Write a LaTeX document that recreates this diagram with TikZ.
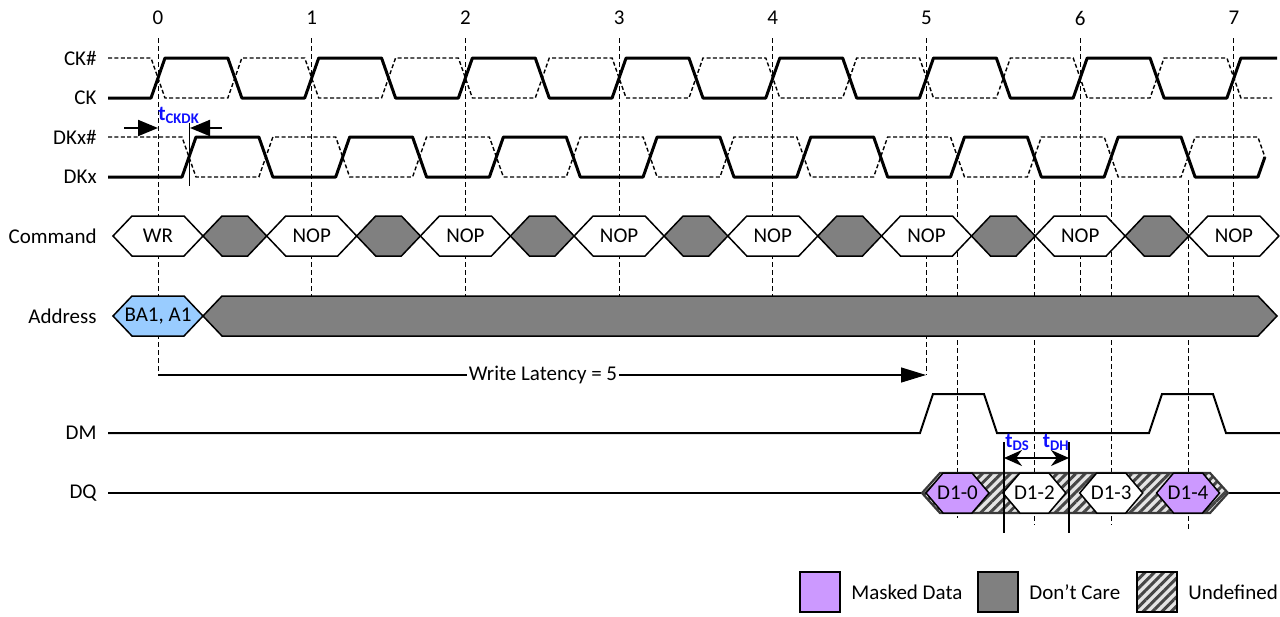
\documentclass[tikz,border=0pt]{standalone}
\usepackage{fontspec}
\setmainfont{Carlito}
\usetikzlibrary{arrows.meta,patterns.meta}
\definecolor{maskpurple}{HTML}{CC99FF}
\definecolor{addrblue}{HTML}{99CCFF}
\definecolor{dcgray}{HTML}{808080}
\definecolor{tblue}{HTML}{1010FF}
\begin{document}
\begin{tikzpicture}[x=0.5pt,y=-0.5pt,
	every node/.style={font=\fontsize{10.5}{12}\selectfont, inner sep=1pt},
	sig/.style={line width=1.5pt, line join=round},
	sigbar/.style={line width=0.7pt, dash pattern=on 2pt off 1.2pt},
	tickline/.style={line width=0.45pt, dash pattern=on 2.5pt off 1.5pt},
	lbl/.style={anchor=east},
	busbox/.style={draw, line width=0.75pt},
	cmdbox/.style={busbox, fill=white},
	dontcare/.style={busbox, fill=dcgray},
	masked/.style={busbox, fill=maskpurple},
	undef/.style={preaction={fill=gray!20}, pattern={Lines[angle=45,distance=3.3pt,line width=1.5pt]}, pattern color=gray!55!black},
	timing/.style={font=\bfseries\fontsize{10.5}{12}\selectfont, text=tblue, inner sep=0pt},
	dimarrow/.style={line width=1pt, -{Triangle[length=10pt,width=8pt]}}]
\useasboundingbox (0,0) rectangle (1280,616);
\def\p{153.7}
% clock numbers and grid
\foreach \i in {0,...,7}
	\node (tk\i) at ({158+\i*\p},18) {\i};
\foreach \i in {1,2,3,4,6,7}
	\draw[tickline] ({158+\i*\p},38) -- ({158+\i*\p},296);
\foreach \i in {0,5}
	\draw[tickline] ({158+\i*\p},38) -- ({158+\i*\p},375);
\foreach \k/\e in {0/518,1/525,2/525,3/532}
	\draw[tickline] ({189+(5+\k/2)*\p},180) -- ({189+(5+\k/2)*\p},\e);
% signal names
\node[lbl] (ckb) at (99,58) {CK\#};
\node[lbl] (ck) at (99,98) {CK};
\node[lbl] (dkb) at (99,137) {DKx\#};
\node[lbl] (dk) at (99,177) {DKx};
\node[lbl] (cmd) at (99,236) {Command};
\node[lbl] (addr) at (99,316) {Address};
\node[lbl] (dm) at (99,433) {DM};
\node[lbl] (dq) at (99,493) {DQ};
% CK / CK#
\draw[sig] (108,98) \foreach \i in {0,...,6} { -- ({158+\i*\p-7},98) -- ({158+\i*\p+7},58) -- ({158+(\i+.5)*\p-7},58) -- ({158+(\i+.5)*\p+7},98) } -- ({158+7*\p-7},98) -- ({158+7*\p+7},58) -- (1277,58);
\draw[sigbar] (108,58) \foreach \i in {0,...,6} { -- ({158+\i*\p-7},58) -- ({158+\i*\p+7},98) -- ({158+(\i+.5)*\p-7},98) -- ({158+(\i+.5)*\p+7},58) } -- ({158+7*\p-7},58) -- ({158+7*\p+7},98) -- (1272,98);
% DKx / DKx#
\draw[sig] (108,177) \foreach \i in {0,...,6} { -- ({189+\i*\p-7},177) -- ({189+\i*\p+7},137) -- ({189+(\i+.5)*\p-7},137) -- ({189+(\i+.5)*\p+7},177) } -- ({189+7*\p-7},177) -- ({189+7*\p},157);
\draw[sigbar] (108,137) \foreach \i in {0,...,6} { -- ({189+\i*\p-7},137) -- ({189+\i*\p+7},177) -- ({189+(\i+.5)*\p-7},177) -- ({189+(\i+.5)*\p+7},137) } -- ({189+7*\p-7},137) -- ({189+7*\p},157);
% tCKDK
\coordinate (ckl) at (124,128);
\coordinate (ck0) at (158,128);
\coordinate (ckr) at (222,128);
\coordinate (dk0) at (190,128);
\draw[line width=0.5pt] (189,123) -- (189,186);
\draw[dimarrow] (ckl) -- (ck0);
\draw[dimarrow] (ckr) -- (dk0);
\node[timing, anchor=base west] (tckdk) at (158,120) {t\textsubscript{CKDK}};
% command bus
\foreach \i/\t in {0/WR,1/NOP,2/NOP,3/NOP,4/NOP,5/NOP,6/NOP,7/NOP} {
	\pgfmathsetmacro\c{158+\i*\p}
	\draw[cmdbox] ({\c-45},236) -- ({\c-26},216) -- ({\c+26},216) -- ({\c+45},236) -- ({\c+26},256) -- ({\c-26},256) -- cycle;
	\node (cmd\i) at (\c,236) {\t};
}
\foreach \i in {0,...,6} {
	\pgfmathsetmacro\c{158+(\i+.5)*\p}
	\draw[dontcare] ({\c-31.85},236) -- ({\c-12.85},216) -- ({\c+12.85},216) -- ({\c+31.85},236) -- ({\c+12.85},256) -- ({\c-12.85},256) -- cycle;
}
% address bus
\draw[busbox, fill=addrblue] (113,316) -- (132,296) -- (184,296) -- (203,316) -- (184,336) -- (132,336) -- cycle;
\node (ba) at (158,316) {BA1, A1};
\draw[dontcare] (203,316) -- (222,296) -- (1258,296) -- (1277,316) -- (1258,336) -- (222,336) -- cycle;
% write latency
\coordinate (wl0) at (158,375);
\coordinate (wl5) at (926,375);
\draw[line width=0.6pt, -{Triangle[length=12.5pt,width=7.5pt]}] (wl0) -- (wl5);
\node[fill=white] (wl) at (543,375) {Write Latency = 5};
% DM
\draw[line width=1pt] (108,433) -- (920,433) -- (933,394) -- (984,394) -- (997,433) -- (1149,433) -- (1162,394) -- (1213,394) -- (1226,433) -- (1280,433);
% DQ
\draw[line width=1pt] (108,493) -- (922,493);
\draw[line width=1pt] (1228,493) -- (1280,493);
\path[undef] (922,493) -- (940,473) -- (1210,473) -- (1228,493) -- (1210,513) -- (940,513) -- cycle;
\draw[line width=1.1pt, gray!45!black] (922,493) -- (940,473) -- (1210,473) -- (1228,493) -- (1210,513) -- (940,513) -- cycle;
\foreach \j/\t/\s in {0/D1-0/masked,1/D1-2/cmdbox,2/D1-3/cmdbox,3/D1-4/masked} {
	\pgfmathsetmacro\c{189+(5+\j/2)*\p}
	\draw[\s] ({\c-31.5},493) -- ({\c-14.5},473) -- ({\c+14.5},473) -- ({\c+31.5},493) -- ({\c+14.5},513) -- ({\c-14.5},513) -- cycle;
	\node (dq\j) at (\c,493) {\t};
}
% tDS / tDH
\coordinate (dsl) at (1004,458);
\coordinate (dhr) at (1069,458);
\draw[line width=0.6pt] (1004,442) -- (1004,533);
\draw[line width=0.6pt] (1069,442) -- (1069,533);
\draw[line width=1pt, {Stealth[length=9pt,width=8pt]}-{Stealth[length=9pt,width=8pt]}] (dsl) -- (dhr);
\node[timing, anchor=base west] (tds) at (1005,447) {t\textsubscript{DS}};
\node[timing, anchor=base east] (tdh) at (1070,447) {t\textsubscript{DH}};
% legend
\draw[masked] (800,572) rectangle (840,612);
\node[anchor=west] (lgm) at (849,592) {Masked Data};
\draw[dontcare] (978,572) rectangle (1018,612);
\node[anchor=west] (lgd) at (1027,592) {Don’t Care};
\path[undef] (1137,572) rectangle (1177,612);
\draw[line width=0.75pt] (1137,572) rectangle (1177,612);
\node[anchor=west] (lgu) at (1186,592) {Undefined};
\end{tikzpicture}
\end{document}
